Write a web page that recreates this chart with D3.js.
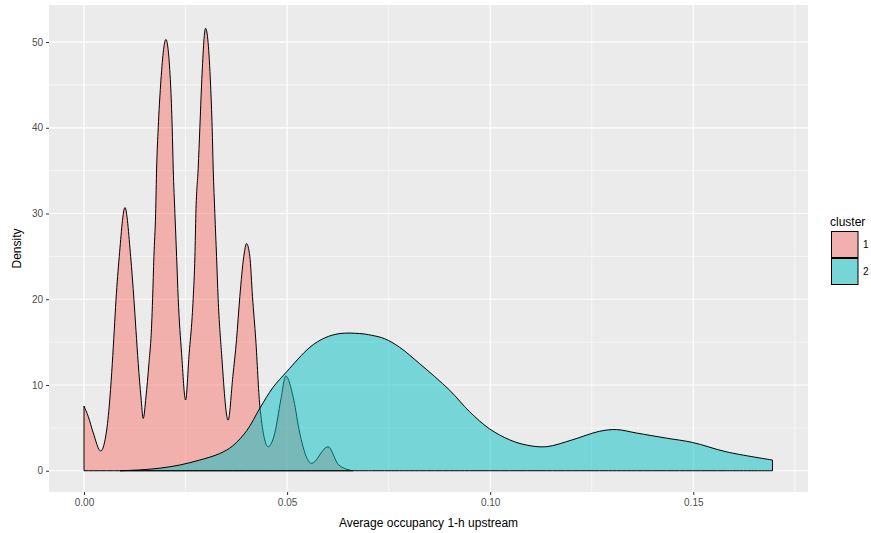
<!DOCTYPE html>
<html lang="en">

<head>
  <meta charset="UTF-8" />
  <title>Density by cluster</title>
  <script src="https://d3js.org/d3.v7.min.js"></script>
  <style>
    * {
      margin: 0;
      padding: 0;
      box-sizing: border-box;
    }

    body {
      background: #fff;
      font-family: "Liberation Sans", Arial, sans-serif;
    }

    .tick-label {
      font-size: 10px;
      fill: #4d4d4d;
    }

    .axis-title {
      font-size: 12px;
      fill: #000;
    }
  </style>
</head>

<body>
  <script>
    // density curves: [x, density]
    const cluster1 = [
      [0.0000, 7.55], [0.00106, 6.3], [0.00229, 4.4], [0.00411, 2.3], [0.00558, 4.75],
      [0.00639, 8.6], [0.00696, 12.5], [0.00745, 16.4], [0.00787, 19.9], [0.00868, 25.0],
      [0.01008, 30.7], [0.01148, 25.0], [0.0123, 19.9], [0.01279, 16.4], [0.01335, 12.5],
      [0.01402, 8.6], [0.01458, 6.1], [0.01525, 8.6], [0.01598, 12.5], [0.01665, 17.0],
      [0.01689, 20.1], [0.01721, 25.0], [0.01763, 30.0], [0.01788, 35.3], [0.01827, 40.0],
      [0.01886, 45.0], [0.02016, 50.3], [0.02132, 45.0], [0.02171, 40.0], [0.02196, 35.3],
      [0.02238, 30.0], [0.0228, 25.0], [0.02319, 20.1], [0.02402, 13.7], [0.02501, 8.25],
      [0.02589, 13.7], [0.02663, 18.0], [0.02688, 20.1], [0.0273, 25.0], [0.02754, 30.0],
      [0.02811, 35.3], [0.02852, 40.0], [0.02894, 45.0], [0.02993, 51.6], [0.03116, 45.0],
      [0.03155, 40.0], [0.0318, 35.3], [0.03221, 30.0], [0.03263, 25.0], [0.03302, 20.1],
      [0.03386, 13.7], [0.03548, 5.9], [0.03664, 11.0], [0.03755, 15.3], [0.03836, 20.3],
      [0.03934, 25.0], [0.04001, 26.5], [0.04082, 25.0], [0.04148, 20.3], [0.04229, 15.25],
      [0.04328, 7.6], [0.04532, 2.8], [0.04697, 4.4], [0.04844, 8.25], [0.04967, 11.05],
      [0.05164, 8.25], [0.05311, 4.4], [0.05599, 0.86], [0.06007, 2.8], [0.0627, 0.67],
      [0.06615, 0.0]
    ];
    const cluster2 = [
      [0.00885, 0.0], [0.0138, 0.1], [0.0187, 0.3], [0.0236, 0.67], [0.0285, 1.25],
      [0.0334, 2.0], [0.0366, 2.9], [0.0401, 4.7], [0.0433, 7.3], [0.0465, 9.7],
      [0.0499, 11.55], [0.0556, 14.4], [0.0593, 15.5], [0.063, 16.0], [0.0679, 16.0],
      [0.0708, 15.8], [0.074, 15.4], [0.0777, 14.4], [0.0826, 12.5], [0.09, 9.4],
      [0.0949, 6.9], [0.0998, 4.9], [0.1048, 3.6], [0.1089, 3.0], [0.1138, 2.8],
      [0.1202, 3.6], [0.1269, 4.6], [0.1311, 4.8], [0.136, 4.4], [0.1434, 3.8],
      [0.1498, 3.3], [0.1582, 2.2], [0.1695, 1.25]
    ];
    const clusters = ['1', '2'];
    const xTicks = [0, 0.05, 0.10, 0.15];
    const xMinor = [0.025, 0.075, 0.125, 0.175];
    const yTicks = [0, 10, 20, 30, 40, 50];
    const yMinor = [5, 15, 25, 35, 45];

    //constants
    const [w, h] = [871, 533];
    const panel = { left: 49, right: 808, top: 5, bottom: 492 };
    const colors = ['#F8766D', '#00BFC4'];

    const svg = d3.select('body')
      .append('svg')
      .attr('width', w)
      .attr('height', h);

    //scales
    const xScale = d3.scaleLinear()
      .domain([-0.00862, 0.17824])
      .range([panel.left, panel.right]);
    const yScale = d3.scaleLinear()
      .domain([-2.48, 54.32])
      .range([panel.bottom, panel.top]);

    //panel background and grid
    svg.append('rect')
      .attr('x', panel.left)
      .attr('y', panel.top)
      .attr('width', panel.right - panel.left)
      .attr('height', panel.bottom - panel.top)
      .attr('fill', '#ebebeb');

    const grid = svg.append('g');
    grid.selectAll('.xminor').data(xMinor).join('line')
      .attr('x1', d => xScale(d)).attr('x2', d => xScale(d))
      .attr('y1', panel.top).attr('y2', panel.bottom)
      .attr('stroke', '#fff').attr('stroke-width', 0.6);
    grid.selectAll('.yminor').data(yMinor).join('line')
      .attr('y1', d => yScale(d)).attr('y2', d => yScale(d))
      .attr('x1', panel.left).attr('x2', panel.right)
      .attr('stroke', '#fff').attr('stroke-width', 0.6);
    grid.selectAll('.xmajor').data(xTicks).join('line')
      .attr('x1', d => xScale(d)).attr('x2', d => xScale(d))
      .attr('y1', panel.top).attr('y2', panel.bottom)
      .attr('stroke', '#fff').attr('stroke-width', 1.2);
    grid.selectAll('.ymajor').data(yTicks).join('line')
      .attr('y1', d => yScale(d)).attr('y2', d => yScale(d))
      .attr('x1', panel.left).attr('x2', panel.right)
      .attr('stroke', '#fff').attr('stroke-width', 1.2);

    //density areas
    const curves = [d3.curveMonotoneX, d3.curveCatmullRom.alpha(0.5)];

    [cluster1, cluster2].forEach((c, i) => {
      const area = d3.area()
        .x(d => xScale(d[0]))
        .y0(yScale(0))
        .y1(d => yScale(Math.max(0, d[1])))
        .curve(curves[i]);
      svg.append('path')
        .datum(c)
        .attr('d', area)
        .attr('fill', colors[i])
        .attr('fill-opacity', 0.5)
        .attr('stroke', '#000')
        .attr('stroke-width', 1);
    });

    //axes
    const xAxis = d3.axisBottom(xScale)
      .tickValues(xTicks)
      .tickFormat(d3.format('.2f'))
      .tickSize(3)
      .tickPadding(4);
    const gx = svg.append('g')
      .attr('transform', `translate(0, ${panel.bottom})`)
      .call(xAxis);
    gx.select('.domain').remove();
    gx.selectAll('.tick line').attr('stroke', '#333');
    gx.selectAll('.tick text').attr('class', 'tick-label').attr('fill', null);

    const yAxis = d3.axisLeft(yScale)
      .tickValues(yTicks)
      .tickSize(3)
      .tickPadding(3);
    const gy = svg.append('g')
      .attr('transform', `translate(${panel.left}, 0)`)
      .call(yAxis);
    gy.select('.domain').remove();
    gy.selectAll('.tick line').attr('stroke', '#333');
    gy.selectAll('.tick text').attr('class', 'tick-label').attr('fill', null);
    svg.selectAll('.tick text').style('font-family', '"Liberation Sans", Arial, sans-serif');

    //axis titles
    svg.append('text')
      .attr('class', 'axis-title')
      .attr('x', (panel.left + panel.right) / 2)
      .attr('y', 527)
      .attr('text-anchor', 'middle')
      .text('Average occupancy 1-h upstream');

    svg.append('text')
      .attr('class', 'axis-title')
      .attr('transform', `translate(21, ${(panel.top + panel.bottom) / 2}) rotate(-90)`)
      .attr('text-anchor', 'middle')
      .text('Density');

    //legend
    const legend = svg.append('g')
      .attr('transform', 'translate(831, 231)');
    legend.append('text')
      .attr('class', 'axis-title')
      .attr('x', -1)
      .attr('y', -5)
      .text('cluster');
    const keys = legend.selectAll('g')
      .data(clusters)
      .join('g')
      .attr('transform', (d, i) => `translate(0, ${i * 27})`);
    keys.append('rect')
      .attr('width', 27)
      .attr('height', 27)
      .attr('fill', '#ebebeb');
    keys.append('rect')
      .attr('x', 0.5)
      .attr('y', 0.5)
      .attr('width', 26.5)
      .attr('height', 26)
      .attr('fill', (d, i) => colors[i])
      .attr('fill-opacity', 0.5)
      .attr('stroke', '#000')
      .attr('stroke-width', 1);
    keys.append('text')
      .attr('class', 'tick-label')
      .attr('x', 32)
      .attr('y', 17)
      .style('fill', '#000')
      .text(d => d);
  </script>
</body>

</html>
